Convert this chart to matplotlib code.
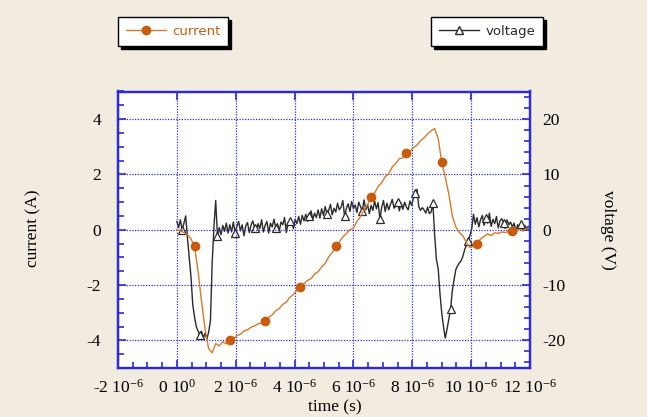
import numpy as np
import matplotlib
matplotlib.use('Agg')
import matplotlib.pyplot as plt
from matplotlib.ticker import MultipleLocator, FixedLocator, FixedFormatter
from matplotlib.lines import Line2D

# ---------------- data ----------------
current_dt_us = 0.12   # sampling step of the current trace (µs)
voltage_dt_us = 0.06   # sampling step of the voltage trace (µs)

current_A = [
    0.00, -0.04, -0.10, -0.18, -0.33, -0.60, -1.50, -2.60, -3.60, -4.30,
    -4.45, -4.12, -4.20, -4.05, -4.13, -4.00, -3.95, -3.83, -3.78, -3.66,
    -3.62, -3.52, -3.48, -3.40, -3.37, -3.30, -3.17, -3.08, -2.93, -2.85,
    -2.70, -2.62, -2.44, -2.35, -2.18, -2.08, -1.96, -1.83, -1.77, -1.60,
    -1.52, -1.34, -1.22, -0.98, -0.82, -0.60, -0.44, -0.26, -0.14, 0.00,
    0.06, 0.30, 0.48, 0.72, 0.90, 1.17, 1.33, 1.57, 1.70, 1.92,
    2.03, 2.27, 2.40, 2.57, 2.60, 2.76, 2.84, 2.97, 3.06, 3.22,
    3.33, 3.47, 3.58, 3.66, 3.30, 2.45, 1.90, 1.30, 0.50, 0.10,
    -0.10, -0.22, -0.45, -0.65, -0.60, -0.50, -0.33, -0.24, -0.15, -0.21,
    -0.11, -0.13, -0.08, -0.10, -0.05, -0.03, -0.06, 0.01, -0.03, 0.04,
    0.05,
]

voltage_V = [
    1.5, 0.4, 1.8, 0.0, 1.2, 2.5, -1.5, -5.0, -8.5, -13.5,
    -15.8, -17.5, -18.3, -19.0, -18.4, -19.6, -18.7, -19.8, -18.5, -16.5,
    -6.0, 0.5, 5.3, -1.2, 0.4, -0.9, 0.8, -0.3, 1.2, -0.6,
    0.9, -0.4, 1.4, -0.5, 0.6, 1.5, -0.2, 0.9, -1.1, 0.7,
    1.3, -0.5, 0.8, 1.6, 0.4, -0.3, 1.1, 0.2, 1.8, -0.4,
    0.8, 1.5, -0.6, 1.2, 0.5, 1.9, 0.4, 1.1, -0.2, 1.4,
    0.9, 2.2, -0.5, 1.3, 1.5, 1.7, 0.2, 1.9, 1.1, 2.4,
    1.0, 2.6, 1.6, 2.8, 1.5, 2.4, 3.4, 1.9, 3.0, 2.2,
    3.6, 2.1, 3.8, 2.6, 4.2, 2.9, 3.5, 4.6, 2.7, 3.9,
    3.2, 4.8, 3.6, 4.1, 5.3, 2.4, 3.9, 4.7, 3.3, 5.1,
    3.8, 4.5, 3.1, 5.0, 4.2, 3.4, 5.4, 3.6, 4.6, 2.9,
    4.4, 3.5, 5.2, 3.8, 4.9, 1.9, 4.0, 5.3, 3.3, 4.8,
    3.6, 4.6, 5.5, 3.9, 4.3, 5.1, 3.4, 4.8, 3.7, 5.0,
    4.1, 3.6, 5.2, 4.4, 5.8, 6.7, 7.3, 4.2, 3.5, 4.0,
    3.6, 3.0, 4.1, 2.9, 3.2, 4.8, -1.0, -5.4, -7.0, -11.5,
    -15.0, -17.5, -19.6, -18.0, -16.2, -14.4, -11.0, -9.0, -7.2, -6.5,
    -6.0, -5.6, -4.8, -3.6, -2.8, -2.1, -1.0, 0.2, 2.8, 1.0,
    2.2, 0.5, 1.8, 2.6, 0.8, 2.2, 1.2, 3.0, 0.6, 1.9,
    1.1, 2.4, 0.3, 1.6, 2.0, 1.3, 0.2, 1.8, 0.9, 1.4,
    0.5, 1.2, -0.3, 0.9, 0.4, 1.1, -0.2, 0.8, 0.3, 0.6,
    0.4,
]

current_marker_idx = [5, 15, 25, 35, 45, 55, 65, 75, 85, 95]
voltage_marker_idx = [3, 13, 23, 33, 44, 56, 64, 75, 85, 95, 105, 115,
                      125, 135, 145, 155, 165, 175, 185, 195]

x_ticks_us = [-2, 0, 2, 4, 6, 8, 10, 12]
x_tick_labels = ['-2 10$^{-6}$', '0 10$^{0}$', '2 10$^{-6}$', '4 10$^{-6}$',
                 '6 10$^{-6}$', '8 10$^{-6}$', '10 10$^{-6}$', '12 10$^{-6}$']
current_ticks = [-4, -2, 0, 2, 4]
current_tick_labels = ['-4', '-2', '0', '2', '4']
voltage_ticks = [-20, -10, 0, 10, 20]
voltage_tick_labels = ['-20', '-10', '0', '10', '20']

series_labels = ['current', 'voltage']

# ---------------- styling ----------------
BG = '#f1ecdf'
BLUE = '#2b2bdc'
ORANGE_LINE = '#d87a2a'
ORANGE_DOT = '#c85c0c'
DARK = '#2a2a2a'

plt.rcParams['font.family'] = ['Liberation Serif', 'DejaVu Serif']
plt.rcParams['axes.unicode_minus'] = False
plt.rcParams['mathtext.fontset'] = 'custom'
plt.rcParams['mathtext.rm'] = 'Liberation Serif'
plt.rcParams['mathtext.it'] = 'Liberation Serif:italic'
plt.rcParams['mathtext.bf'] = 'Liberation Serif:bold'

W, H = 647, 417
fig = plt.figure(figsize=(W / 100, H / 100), dpi=100, facecolor=BG)
L, R, T, B = 118, 530, 91.5, 368
ax = fig.add_axes([L / W, 1 - B / H, (R - L) / W, (B - T) / H])
ax2 = ax.twinx()

t_cur = np.arange(len(current_A)) * current_dt_us * 1e-6
t_vol = np.arange(len(voltage_V)) * voltage_dt_us * 1e-6

ax2.plot(t_vol, voltage_V, color=DARK, lw=1.0, marker='^', markersize=6,
         markerfacecolor='white', markeredgecolor=DARK, markeredgewidth=0.9,
         markevery=voltage_marker_idx)
ax.plot(t_cur, current_A, color=ORANGE_LINE, lw=1.0, marker='o', markersize=6,
        markerfacecolor=ORANGE_DOT, markeredgecolor=ORANGE_DOT,
        markevery=current_marker_idx)

ax.set_zorder(2)
ax2.set_zorder(1)
ax.patch.set_visible(False)
ax2.patch.set_visible(True)
ax2.set_facecolor('white')

ax.set_xlim(-2e-6, 12e-6)
ax.set_ylim(-5, 5)
ax2.set_ylim(-25, 25)

ax.xaxis.set_major_locator(FixedLocator([v * 1e-6 for v in x_ticks_us]))
ax.xaxis.set_major_formatter(FixedFormatter(x_tick_labels))
ax.xaxis.set_minor_locator(MultipleLocator(0.5e-6))
ax.yaxis.set_major_locator(FixedLocator(current_ticks))
ax.yaxis.set_major_formatter(FixedFormatter(current_tick_labels))
ax.yaxis.set_minor_locator(MultipleLocator(0.5))
ax2.yaxis.set_major_locator(FixedLocator(voltage_ticks))
ax2.yaxis.set_major_formatter(FixedFormatter(voltage_tick_labels))
ax2.yaxis.set_minor_locator(MultipleLocator(2))

for a in (ax, ax2):
    for s in a.spines.values():
        s.set_color(BLUE)
        s.set_linewidth(1.6)

ax.tick_params(axis='both', which='both', direction='in', color=BLUE, width=1.2,
               labelsize=12.5)
ax.tick_params(which='major', length=6)
ax.tick_params(which='minor', length=4)
ax.tick_params(axis='x', top=True, bottom=True, pad=8)
ax.tick_params(axis='y', left=True, right=False, pad=12)
ax2.tick_params(axis='y', which='both', direction='in', color=BLUE, width=1.2,
                labelsize=12.5, pad=9, left=False, right=True)
ax2.tick_params(axis='y', which='major', length=6)
ax2.tick_params(axis='y', which='minor', length=4)

ax.grid(True, which='major', color=BLUE, linestyle=(0, (1, 1.2)), linewidth=0.9)

fig.text(33 / W, 1 - 228 / H, 'current (A)', rotation=90, ha='center',
         va='center', fontsize=12.5)
fig.text(608 / W, 1 - 230 / H, 'voltage (V)', rotation=-90, ha='center',
         va='center', fontsize=12.5)
fig.text(335 / W, 1 - 407 / H, 'time (s)', ha='center', va='center',
         fontsize=12.5)

# legends
h_cur = Line2D([], [], color=ORANGE_LINE, lw=1.0, marker='o', markersize=6,
               markerfacecolor=ORANGE_DOT, markeredgecolor=ORANGE_DOT)
h_vol = Line2D([], [], color=DARK, lw=1.0, marker='^', markersize=6,
               markerfacecolor='white', markeredgecolor=DARK)
common = dict(frameon=True, fancybox=False, edgecolor='black',
              shadow={'color': 'black', 'alpha': 1.0},
              prop={'family': 'DejaVu Sans', 'size': 9.5},
              handlelength=3.0, handletextpad=0.5, borderpad=0.6,
              borderaxespad=0, framealpha=1)
leg1 = fig.legend([h_cur], [series_labels[0]], loc='upper left',
                  bbox_to_anchor=(118 / W, 1 - 17 / H), labelcolor=[ORANGE_DOT],
                  **common)
leg2 = fig.legend([h_vol], [series_labels[1]], loc='upper right',
                  bbox_to_anchor=(543 / W, 1 - 17 / H), labelcolor=[DARK],
                  **common)
for lg in (leg1, leg2):
    lg.get_frame().set_linewidth(1.0)

fig.savefig('out.png', dpi=100, facecolor=BG)
